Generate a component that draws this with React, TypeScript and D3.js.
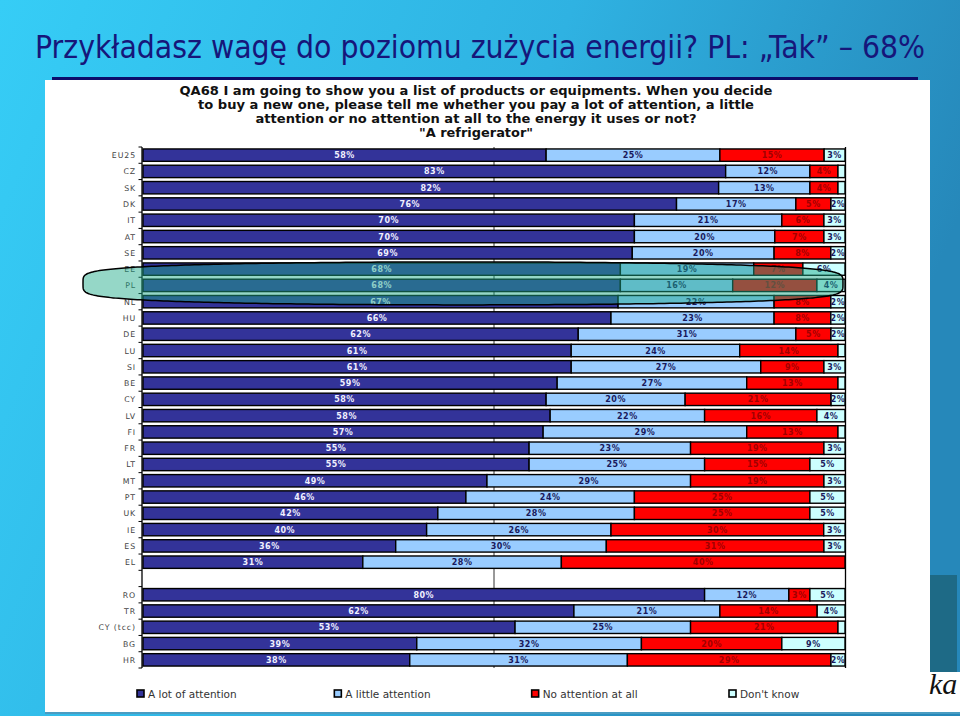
import React, { useEffect, useRef } from 'react';
import * as d3 from 'd3';

// Eurobarometer QA68 - "A refrigerator"
const memberStates = ['EU25', 'CZ', 'SK', 'DK', 'IT', 'AT', 'SE', 'EE', 'PL', 'NL', 'HU', 'DE', 'LU', 'SI', 'BE', 'CY', 'LV', 'FI', 'FR', 'LT', 'MT', 'PT', 'UK', 'IE', 'ES', 'EL'];
const candidates = ['RO', 'TR', 'CY (tcc)', 'BG', 'HR'];
const aLotOfAttention = [58, 83, 82, 76, 70, 70, 69, 68, 68, 67, 66, 62, 61, 61, 59, 58, 58, 57, 55, 55, 49, 46, 42, 40, 36, 31, 80, 62, 53, 39, 38];
const aLittleAttention = [25, 12, 13, 17, 21, 20, 20, 19, 16, 22, 23, 31, 24, 27, 27, 20, 22, 29, 23, 25, 29, 24, 28, 26, 30, 28, 12, 21, 25, 32, 31];
const noAttentionAtAll = [15, 4, 4, 5, 6, 7, 8, 7, 12, 8, 8, 5, 14, 9, 13, 21, 16, 13, 19, 15, 19, 25, 25, 30, 31, 40, 3, 14, 21, 20, 29];
const dontKnow = [3, 1, 1, 2, 3, 3, 2, 6, 4, 2, 2, 2, 1, 3, 1, 2, 4, 1, 3, 5, 3, 5, 5, 3, 3, 0, 5, 4, 1, 9, 2];

const seriesKeys = ['lot', 'little', 'none', 'dk'];
const seriesNames = ['A lot of attention', 'A little attention', 'No attention at all', "Don't know"];
const seriesColors = ['#333399', '#99ccff', '#ff0000', '#ccffff'];
const labelColors = ['#f0f0ff', '#1a1a5c', '#a00000', '#1a1a5c'];

const questionLines = [
  'QA68 I am going to show you a list of products or equipments. When you decide',
  'to buy a new one, please tell me whether you pay a lot of attention, a little',
  'attention or no attention at all to the energy it uses or not?',
  '"A refrigerator"',
];
const questionWidths = [593, 556, 441, 114];
const highlighted = 'PL';

const W = 960;
const H = 716;

export default function App() {
  const svgRef = useRef<SVGSVGElement>(null);

  useEffect(() => {
    const svg = d3.select(svgRef.current);
    svg.selectAll('*').remove();

    // background slide
    const defs = svg.append('defs');
    const grad = defs.append('linearGradient').attr('id', 'bg').attr('x1', '0%').attr('y1', '0%').attr('x2', '100%').attr('y2', '30%');
    grad.append('stop').attr('offset', '0%').attr('stop-color', '#36cdf6');
    grad.append('stop').attr('offset', '55%').attr('stop-color', '#2fb2e2');
    grad.append('stop').attr('offset', '100%').attr('stop-color', '#2688ba');
    svg.append('rect').attr('width', W).attr('height', H).attr('fill', 'url(#bg)');

    svg.append('text')
      .attr('x', 35).attr('y', 58)
      .attr('font-family', '"Liberation Sans Narrow", "DejaVu Sans Condensed", "Liberation Sans", sans-serif')
      .attr('font-size', 32)
      .attr('fill', '#16167a')
      .attr('textLength', 890).attr('lengthAdjust', 'spacingAndGlyphs')
      .text('Przykładasz wagę do poziomu zużycia energii? PL: „Tak” – 68%');

    svg.append('rect').attr('x', 52).attr('y', 77).attr('width', 866).attr('height', 3).attr('fill', '#0c0c6a');

    // white panel + right side decoration
    svg.append('rect').attr('x', 45).attr('y', 80).attr('width', 885).attr('height', 632).attr('fill', '#ffffff');
    svg.append('rect').attr('x', 930).attr('y', 575).attr('width', 27).attr('height', 97).attr('fill', '#1e6a86');
    svg.append('rect').attr('x', 930).attr('y', 672).attr('width', 30).attr('height', 40).attr('fill', '#ffffff');
    svg.append('text').attr('x', 929).attr('y', 694)
      .attr('font-family', '"Liberation Serif", "DejaVu Serif", serif').attr('font-style', 'italic')
      .attr('font-size', 30).attr('fill', '#111').text('ka');
    svg.append('rect').attr('x', 45).attr('y', 712).attr('width', 915).attr('height', 2).attr('fill', '#4a9cc2');

    // question
    svg.append('g').selectAll('text').data(questionLines).join('text')
      .attr('x', 476).attr('y', (_, i) => 95 + i * 14)
      .attr('text-anchor', 'middle')
      .attr('font-family', '"DejaVu Sans Condensed", "DejaVu Sans", sans-serif')
      .attr('font-weight', 'bold').attr('font-size', 12).attr('fill', '#111')
      .attr('textLength', (_, i) => questionWidths[i]).attr('lengthAdjust', 'spacingAndGlyphs')
      .text((d) => d);

    // data table
    const countries = [...memberStates, ...candidates];
    const table = countries.map((c, i) => ({
      country: c,
      lot: aLotOfAttention[i],
      little: aLittleAttention[i],
      none: noAttentionAtAll[i],
      dk: dontKnow[i],
    }));
    const rows = [...memberStates, 'gap', ...candidates];

    const y = d3.scaleBand().domain(rows).range([147, 668]).paddingInner(0.24).paddingOuter(0.12);
    const x = d3.scaleLinear().domain([0, 1]).range([143, 845]);
    const stacked = d3.stack<any>().keys(seriesKeys).offset(d3.stackOffsetExpand)(table);

    const plot = svg.append('g');
    const [top, bottom] = y.range();

    // 50% gridline and frame
    plot.append('line').attr('x1', x(0.5)).attr('x2', x(0.5)).attr('y1', top).attr('y2', bottom).attr('stroke', '#333').attr('stroke-width', 1);
    plot.append('line').attr('x1', x(1) + 0.5).attr('x2', x(1) + 0.5).attr('y1', top).attr('y2', bottom).attr('stroke', '#000').attr('stroke-width', 1.3);
    plot.append('line').attr('x1', 142).attr('x2', 142).attr('y1', top).attr('y2', bottom).attr('stroke', '#000').attr('stroke-width', 1.3);

    const step = y.step();
    const boundaries = d3.range(rows.length + 1).map((i) => top + i * step);
    plot.append('g').selectAll('line').data(boundaries).join('line')
      .attr('x1', 138.5).attr('x2', 142).attr('y1', (d) => d).attr('y2', (d) => d)
      .attr('stroke', '#000').attr('stroke-width', 1);

    plot.append('g').selectAll('text').data(countries).join('text')
      .attr('x', 136).attr('y', (d) => (y(d) as number) + y.bandwidth() / 2 + 3)
      .attr('text-anchor', 'end')
      .attr('font-family', '"DejaVu Sans", sans-serif').attr('font-size', 7.8)
      .attr('letter-spacing', 0.9).attr('fill', '#444')
      .text((d) => d);

    stacked.forEach((layer, li) => {
      const g = plot.append('g');
      g.selectAll('rect').data(layer.filter((d) => d[1] - d[0] > 0)).join('rect')
        .attr('x', (d) => x(d[0]))
        .attr('y', (d) => y(d.data.country) as number)
        .attr('width', (d) => x(d[1]) - x(d[0]))
        .attr('height', y.bandwidth())
        .attr('fill', seriesColors[li])
        .attr('stroke', '#000').attr('stroke-width', 1.4);
      g.selectAll('text').data(layer.filter((d) => d.data[layer.key] >= 2)).join('text')
        .attr('x', (d) => (x(d[0]) + x(d[1])) / 2)
        .attr('y', (d) => (y(d.data.country) as number) + y.bandwidth() / 2 + 3)
        .attr('text-anchor', 'middle')
        .attr('font-family', '"DejaVu Sans", sans-serif').attr('font-weight', 'bold')
        .attr('font-size', 8).attr('letter-spacing', 0.5)
        .attr('fill', labelColors[li])
        .text((d) => d.data[layer.key] + '%');
    });

    // highlight ellipse around PL
    const cy = (y(highlighted) as number) + y.bandwidth() / 2 - 2;
    const left = 83;
    const right = x(1) - 2;
    const cx = (left + right) / 2;
    const rx = (right - left) / 2;
    const ry = 21.5;
    const pts: [number, number][] = d3.range(0, 360, 1).map((deg) => {
      const t = (deg * Math.PI) / 180;
      const s = Math.sin(t);
      return [cx + rx * Math.cos(t), cy + ry * Math.sign(s) * Math.pow(Math.abs(s), 0.42)];
    });
    svg.append('path')
      .attr('d', d3.line().curve(d3.curveLinearClosed)(pts))
      .attr('fill', 'rgb(30,171,137)').attr('fill-opacity', 0.47)
      .attr('stroke', '#000').attr('stroke-width', 1.5);

    // legend
    const lx = d3.scalePoint().domain(seriesKeys).range([137, 729]);
    const legend = svg.append('g').selectAll('g').data(seriesKeys).join('g')
      .attr('transform', (d) => `translate(${lx(d)}, 690)`);
    legend.append('rect').attr('width', 7).attr('height', 7)
      .attr('fill', (_, i) => seriesColors[i]).attr('stroke', '#000').attr('stroke-width', 1.6);
    legend.append('text').attr('x', 11).attr('y', 7.5)
      .attr('font-family', '"DejaVu Sans", sans-serif').attr('font-size', 10.5).attr('fill', '#333')
      .text((_, i) => seriesNames[i]);
  }, []);

  return <svg ref={svgRef} width={W} height={H} style={{ position: 'absolute', left: 0, top: 0 }} />;
}
